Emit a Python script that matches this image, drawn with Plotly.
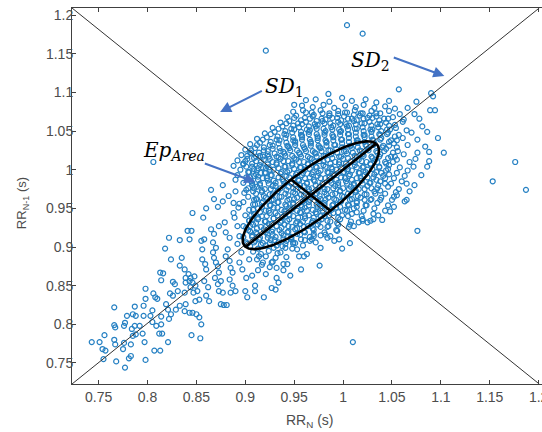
import numpy as np
import plotly.graph_objects as go

# ---------------- data ----------------
outlier_points = [(0.806, 1.010), (0.921, 1.154), (1.004, 1.187), (1.020, 1.176), (1.176, 1.010),
                  (1.153, 0.985), (1.187, 0.974), (1.010, 0.777), (1.076, 0.921)]

tail_points = [
    (0.743, 0.777), (0.751, 0.777), (0.756, 0.786), (0.754, 0.768), (0.757, 0.766), (0.755, 0.755),
    (0.766, 0.822), (0.766, 0.799), (0.767, 0.796), (0.766, 0.780), (0.767, 0.774), (0.768, 0.752),
    (0.776, 0.798), (0.777, 0.802), (0.779, 0.811), (0.776, 0.776), (0.775, 0.768), (0.781, 0.756),
    (0.783, 0.759), (0.777, 0.744), (0.787, 0.823), (0.785, 0.813), (0.788, 0.811), (0.784, 0.794),
    (0.787, 0.798), (0.788, 0.787), (0.785, 0.785), (0.783, 0.774), (0.792, 0.798), (0.795, 0.788),
    (0.798, 0.754), (0.796, 0.811), (0.798, 0.833), (0.796, 0.824), (0.798, 0.846), (0.797, 0.777),
    (0.805, 0.818), (0.803, 0.811), (0.805, 0.803), (0.809, 0.798), (0.807, 0.766), (0.813, 0.766),
    (0.806, 0.840), (0.808, 0.835), (0.810, 0.833), (0.814, 0.810), (0.812, 0.788), (0.815, 0.788),
    (0.814, 0.800), (0.813, 0.867), (0.816, 0.866), (0.814, 0.857), (0.821, 0.819), (0.819, 0.826),
    (0.822, 0.807), (0.821, 0.777), (0.823, 0.840), (0.826, 0.837), (0.824, 0.813), (0.833, 0.824),
    (0.829, 0.819), (0.831, 0.843), (0.828, 0.852), (0.826, 0.855), (0.818, 0.898), (0.822, 0.912),
    (0.824, 0.884), (0.833, 0.909), (0.835, 0.886), (0.833, 0.876), (0.838, 0.871), (0.839, 0.860),
    (0.839, 0.854), (0.838, 0.841), (0.839, 0.826), (0.838, 0.817), (0.843, 0.815), (0.846, 0.815),
    (0.850, 0.813), (0.853, 0.809), (0.855, 0.800), (0.845, 0.786), (0.854, 0.782), (0.841, 0.921),
    (0.845, 0.921), (0.843, 0.910), (0.842, 0.865), (0.844, 0.860), (0.843, 0.856), (0.846, 0.854),
    (0.844, 0.848), (0.848, 0.862), (0.849, 0.850), (0.847, 0.841), (0.851, 0.843), (0.853, 0.832),
    (0.849, 0.830), (0.855, 0.908), (0.858, 0.910), (0.856, 0.897), (0.856, 0.884), (0.859, 0.878),
    (0.860, 0.871), (0.858, 0.856), (0.862, 0.848), (0.860, 0.837), (0.863, 0.830), (0.865, 0.923),
    (0.868, 0.917), (0.867, 0.906), (0.870, 0.899), (0.867, 0.893), (0.868, 0.886), (0.870, 0.880),
    (0.872, 0.875), (0.873, 0.867), (0.869, 0.860), (0.872, 0.852), (0.875, 0.856), (0.873, 0.843),
    (0.877, 0.841), (0.875, 0.826), (0.878, 0.825), (0.881, 0.825), (0.873, 0.927), (0.879, 0.932),
    (0.880, 0.919), (0.884, 0.912), (0.882, 0.897), (0.880, 0.888), (0.884, 0.882), (0.885, 0.873),
    (0.887, 0.867), (0.884, 0.858), (0.887, 0.850), (0.885, 0.841), (0.890, 0.843), (0.889, 0.938),
    (0.892, 0.927), (0.894, 0.914), (0.892, 0.904), (0.896, 0.893), (0.894, 0.880), (0.897, 0.871),
    (0.901, 0.860), (0.900, 0.843), (0.902, 0.835), (0.910, 0.850), (0.910, 0.843), (0.907, 0.863),
    (0.904, 0.884), (0.902, 0.904), (0.901, 0.925), (0.907, 0.936), (0.919, 0.835), (0.921, 0.865),
    (0.914, 0.888), (0.918, 0.880), (0.908, 0.894), (0.916, 0.891), (0.924, 0.895), (0.933, 0.892),
    (0.912, 0.884), (0.921, 0.888), (0.917, 0.877), (0.928, 0.881), (0.913, 0.870), (0.925, 0.874),
    (0.942, 0.887), (0.939, 0.870),
]

fringe_points = [
    (0.911, 1.017), (0.924, 1.017), (0.913, 1.002), (0.916, 0.996), (0.913, 0.991), (0.890, 0.987),
    (0.921, 1.002), (0.865, 0.974), (0.877, 0.980), (0.890, 0.972), (0.901, 0.974), (0.907, 0.980),
    (0.908, 0.972), (0.909, 0.961), (0.877, 0.959), (0.888, 0.957), (0.894, 0.956), (0.846, 0.944),
    (0.860, 0.950), (0.868, 0.962), (0.898, 1.008), (0.905, 1.022), (0.883, 0.966), (0.872, 0.952),
    (0.857, 0.938),
    (1.057, 1.104), (1.090, 1.099), (1.092, 1.095), (1.075, 1.088), (1.089, 1.077), (1.094, 1.077),
    (0.962, 1.090), (0.950, 1.084), (1.066, 1.080), (1.073, 1.072), (0.985, 1.098),
    (1.081, 1.056), (1.086, 1.049), (1.076, 1.039), (1.084, 1.030), (1.088, 1.023), (1.076, 1.022),
    (1.088, 1.011), (1.072, 1.004), (1.086, 1.004), (1.103, 1.022), (1.097, 1.041), (1.065, 0.961),
    (1.052, 0.965), (1.065, 0.982), (1.073, 0.980), (1.063, 0.959), (1.055, 0.967), (1.038, 0.961),
    (1.078, 1.066), (1.070, 1.048), (1.074, 1.014), (1.080, 0.993), (1.068, 0.972),
    (1.040, 0.935), (1.028, 0.934), (1.031, 0.936), (1.025, 0.932), (1.007, 0.929), (1.011, 0.927),
    (1.016, 0.932), (1.020, 0.934), (1.007, 0.905), (0.999, 0.898), (0.996, 0.910), (0.991, 0.908),
    (0.987, 0.914), (0.982, 0.916), (0.984, 0.912), (0.977, 0.899), (0.976, 0.876), (0.968, 0.910),
    (0.970, 0.914), (0.966, 0.908), (0.963, 0.891), (0.960, 0.888), (0.957, 0.871), (0.953, 0.897),
    (0.955, 0.888), (0.946, 0.863), (0.943, 0.878), (0.939, 0.878), (0.934, 0.854), (0.932, 0.860),
    (0.931, 0.845), (0.927, 0.847), (0.949, 0.904), (0.947, 0.910), (0.941, 0.899), (0.936, 0.893),
    (0.931, 0.886), (0.927, 0.880), (0.932, 0.873), (1.048, 0.946), (1.052, 0.952), (1.036, 0.941),
    (0.994, 0.921),
]

core_upper = [
    (0.972, 1.091), (0.986, 1.088), (0.999, 1.093), (1.009, 1.089), (1.023, 1.091), (1.034, 1.087), (1.047, 1.089),
    (0.958, 1.083), (0.969, 1.081), (0.980, 1.084), (0.991, 1.080), (1.002, 1.083), (1.013, 1.081), (1.021, 1.084),
    (1.032, 1.080), (1.043, 1.082), (1.053, 1.079),
    (0.949, 1.075), (0.959, 1.077), (0.968, 1.074), (0.977, 1.077), (0.986, 1.073), (0.995, 1.076), (1.004, 1.074),
    (1.012, 1.077), (1.020, 1.073), (1.029, 1.076), (1.038, 1.073), (1.047, 1.076), (1.058, 1.072),
    (0.943, 1.068), (0.952, 1.070), (0.961, 1.067), (0.969, 1.069), (0.978, 1.066), (0.986, 1.070), (0.994, 1.067),
    (1.001, 1.069), (1.009, 1.066), (1.017, 1.070), (1.025, 1.067), (1.034, 1.069), (1.042, 1.066), (1.051, 1.068),
    (1.062, 1.065),
    (0.936, 1.061), (0.945, 1.063), (0.954, 1.060), (0.962, 1.062), (0.971, 1.059), (0.979, 1.063), (0.987, 1.060),
    (0.995, 1.062), (1.003, 1.059), (1.011, 1.063), (1.019, 1.060), (1.027, 1.062), (1.035, 1.059), (1.044, 1.061),
    (1.053, 1.058), (1.061, 1.062),
    (0.928, 1.054), (0.938, 1.056), (0.947, 1.053), (0.955, 1.055), (0.963, 1.052), (0.972, 1.056), (0.980, 1.053),
    (0.988, 1.055), (0.996, 1.052), (1.004, 1.056), (1.012, 1.053), (1.020, 1.055), (1.028, 1.052), (1.036, 1.055),
    (1.045, 1.052), (1.054, 1.054), (1.065, 1.051),
    (0.920, 1.047), (0.930, 1.049), (0.940, 1.046), (0.948, 1.048), (0.957, 1.045), (0.965, 1.049), (0.973, 1.046),
    (0.981, 1.048), (0.989, 1.045), (0.997, 1.049), (1.005, 1.046), (1.013, 1.048), (1.021, 1.045), (1.029, 1.049),
    (1.037, 1.046), (1.046, 1.048), (1.057, 1.045),
    (0.912, 1.040), (0.922, 1.042), (0.932, 1.039), (0.941, 1.041), (0.949, 1.038), (0.958, 1.042), (0.966, 1.039),
    (0.974, 1.041), (0.982, 1.038), (0.990, 1.042), (0.998, 1.039), (1.006, 1.041), (1.014, 1.038), (1.022, 1.042),
    (1.030, 1.039), (1.039, 1.041), (1.049, 1.038), (1.061, 1.041),
    (0.905, 1.033), (0.915, 1.035), (0.925, 1.032), (0.934, 1.034), (0.943, 1.031), (0.951, 1.035), (0.959, 1.032),
    (0.967, 1.034), (0.975, 1.031), (0.983, 1.035), (0.991, 1.032), (0.999, 1.034), (1.007, 1.031), (1.015, 1.035),
    (1.023, 1.032), (1.032, 1.034), (1.041, 1.031), (1.052, 1.034), (1.066, 1.032),
]

core_middle = [
    (0.900, 1.026), (0.910, 1.028), (0.919, 1.025), (0.928, 1.027), (0.936, 1.024), (0.945, 1.028), (0.953, 1.025),
    (0.961, 1.027), (0.969, 1.024), (0.977, 1.028), (0.985, 1.025), (0.993, 1.027), (1.001, 1.024), (1.009, 1.028),
    (1.017, 1.025), (1.025, 1.027), (1.034, 1.024), (1.044, 1.027), (1.056, 1.024),
    (0.896, 1.019), (0.906, 1.021), (0.915, 1.018), (0.923, 1.020), (0.932, 1.017), (0.940, 1.021), (0.948, 1.018),
    (0.956, 1.020), (0.964, 1.017), (0.972, 1.021), (0.980, 1.018), (0.988, 1.020), (0.996, 1.017), (1.004, 1.021),
    (1.012, 1.018), (1.020, 1.020), (1.029, 1.017), (1.038, 1.020), (1.049, 1.017), (1.062, 1.020),
    (0.892, 1.012), (0.902, 1.014), (0.911, 1.011), (0.919, 1.013), (0.928, 1.010), (0.936, 1.014), (0.944, 1.011),
    (0.952, 1.013), (0.960, 1.010), (0.968, 1.014), (0.976, 1.011), (0.984, 1.013), (0.992, 1.010), (1.000, 1.014),
    (1.008, 1.011), (1.016, 1.013), (1.024, 1.010), (1.033, 1.013), (1.043, 1.010), (1.055, 1.013), (1.068, 1.010),
    (0.888, 1.005), (0.898, 1.007), (0.907, 1.004), (0.915, 1.006), (0.924, 1.003), (0.932, 1.007), (0.940, 1.004),
    (0.948, 1.006), (0.956, 1.003), (0.964, 1.007), (0.972, 1.004), (0.980, 1.006), (0.988, 1.003), (0.996, 1.007),
    (1.004, 1.004), (1.012, 1.006), (1.020, 1.003), (1.028, 1.007), (1.037, 1.004), (1.047, 1.006), (1.058, 1.003),
    (0.895, 1.000), (0.904, 0.997), (0.912, 0.999), (0.921, 0.996), (0.929, 1.000), (0.937, 0.997),
    (0.945, 0.999), (0.953, 0.996), (0.961, 1.000), (0.969, 0.997), (0.977, 0.999), (0.985, 0.996), (0.993, 1.000),
    (1.001, 0.997), (1.009, 0.999), (1.017, 0.996), (1.025, 1.000), (1.034, 0.997), (1.044, 0.999), (1.055, 0.996),
    (1.066, 0.999),
    (0.892, 0.993), (0.901, 0.990), (0.909, 0.992), (0.918, 0.989), (0.926, 0.993), (0.934, 0.990),
    (0.942, 0.992), (0.950, 0.989), (0.958, 0.993), (0.966, 0.990), (0.974, 0.992), (0.982, 0.989), (0.990, 0.993),
    (0.998, 0.990), (1.006, 0.992), (1.014, 0.989), (1.022, 0.993), (1.031, 0.990), (1.041, 0.992), (1.052, 0.989),
    (1.063, 0.992),
    (0.898, 0.983), (0.906, 0.985), (0.915, 0.982), (0.923, 0.986), (0.931, 0.983),
    (0.939, 0.985), (0.947, 0.982), (0.955, 0.986), (0.963, 0.983), (0.971, 0.985), (0.979, 0.982), (0.987, 0.986),
    (0.995, 0.983), (1.003, 0.985), (1.011, 0.982), (1.019, 0.986), (1.028, 0.983), (1.038, 0.985), (1.049, 0.982),
    (1.060, 0.985),
]

core_lower = [
    (0.903, 0.976), (0.912, 0.978), (0.920, 0.975), (0.928, 0.979), (0.936, 0.976),
    (0.944, 0.978), (0.952, 0.975), (0.960, 0.979), (0.968, 0.976), (0.976, 0.978), (0.984, 0.975), (0.992, 0.979),
    (1.000, 0.976), (1.008, 0.978), (1.016, 0.975), (1.025, 0.979), (1.035, 0.976), (1.046, 0.978), (1.057, 0.975),
    (0.899, 0.970), (0.917, 0.971), (0.925, 0.968), (0.933, 0.972), (0.941, 0.969),
    (0.949, 0.971), (0.957, 0.968), (0.965, 0.972), (0.973, 0.969), (0.981, 0.971), (0.989, 0.968), (0.997, 0.972),
    (1.005, 0.969), (1.013, 0.971), (1.022, 0.968), (1.032, 0.972), (1.043, 0.969), (1.054, 0.971),
    (0.903, 0.965), (0.912, 0.962), (0.921, 0.964), (0.929, 0.961), (0.937, 0.965),
    (0.945, 0.962), (0.953, 0.964), (0.961, 0.961), (0.969, 0.965), (0.977, 0.962), (0.985, 0.964), (0.993, 0.961),
    (1.001, 0.965), (1.009, 0.962), (1.018, 0.964), (1.028, 0.961), (1.039, 0.964), (1.050, 0.961),
    (0.898, 0.958), (0.908, 0.955), (0.917, 0.957), (0.925, 0.954), (0.933, 0.958),
    (0.941, 0.955), (0.949, 0.957), (0.957, 0.954), (0.965, 0.958), (0.973, 0.955), (0.981, 0.957), (0.989, 0.954),
    (0.997, 0.958), (1.005, 0.955), (1.014, 0.957), (1.024, 0.954), (1.035, 0.957), (1.046, 0.954),
    (0.893, 0.951), (0.904, 0.948), (0.913, 0.950), (0.921, 0.947), (0.929, 0.951),
    (0.937, 0.948), (0.945, 0.950), (0.953, 0.947), (0.961, 0.951), (0.969, 0.948), (0.977, 0.950), (0.985, 0.947),
    (0.993, 0.951), (1.002, 0.948), (1.011, 0.950), (1.021, 0.947), (1.032, 0.950), (1.043, 0.947),
    (0.888, 0.944), (0.900, 0.941), (0.909, 0.943), (0.917, 0.940), (0.925, 0.944),
    (0.933, 0.941), (0.941, 0.943), (0.949, 0.940), (0.957, 0.944), (0.965, 0.941), (0.973, 0.943), (0.981, 0.940),
    (0.990, 0.944), (0.999, 0.941), (1.009, 0.943), (1.019, 0.940), (1.031, 0.943),
    (0.904, 0.934), (0.913, 0.936), (0.921, 0.933), (0.929, 0.937), (0.937, 0.934), (0.945, 0.936),
    (0.953, 0.933), (0.961, 0.937), (0.969, 0.934), (0.978, 0.936), (0.987, 0.933), (0.997, 0.936), (1.008, 0.933),
    (1.020, 0.936),
    (0.898, 0.927), (0.908, 0.929), (0.916, 0.926), (0.924, 0.930), (0.932, 0.927), (0.940, 0.929),
    (0.948, 0.926), (0.956, 0.930), (0.964, 0.927), (0.974, 0.929), (0.984, 0.926), (0.995, 0.929), (1.006, 0.926),
    (0.903, 0.922), (0.911, 0.919), (0.919, 0.923), (0.927, 0.920), (0.935, 0.922), (0.943, 0.919),
    (0.951, 0.923), (0.960, 0.920), (0.970, 0.922), (0.981, 0.919), (0.993, 0.922),
    (0.898, 0.913), (0.907, 0.915), (0.915, 0.912), (0.923, 0.916), (0.931, 0.913), (0.939, 0.915),
    (0.947, 0.912), (0.956, 0.916), (0.966, 0.913), (0.977, 0.915),
    (0.901, 0.906), (0.910, 0.908), (0.918, 0.905), (0.926, 0.909), (0.934, 0.906), (0.942, 0.908),
    (0.951, 0.905), (0.961, 0.909), (0.972, 0.906),
    (0.905, 0.901), (0.913, 0.898), (0.921, 0.902), (0.929, 0.899), (0.938, 0.901), (0.948, 0.898),
    (0.959, 0.902),
]

# the very dense centre of the cloud (points overlap heavily here)
core_dense = [
    (0.962, 1.074), (0.970, 1.071), (0.979, 1.073), (0.986, 1.070), (0.995, 1.072), (1.002, 1.074), (1.011, 1.071),
    (1.018, 1.073), (1.027, 1.070), (1.034, 1.073),
    (0.950, 1.067), (0.957, 1.064), (0.966, 1.066), (0.973, 1.063), (0.982, 1.065), (0.989, 1.067), (0.998, 1.064),
    (1.005, 1.066), (1.014, 1.064), (1.021, 1.066), (1.030, 1.067), (1.037, 1.064), (1.046, 1.066),
    (0.942, 1.060), (0.949, 1.057), (0.958, 1.059), (0.965, 1.056), (0.974, 1.058), (0.981, 1.060), (0.990, 1.057),
    (0.997, 1.059), (1.006, 1.057), (1.013, 1.059), (1.022, 1.060), (1.029, 1.057), (1.038, 1.059), (1.047, 1.057),
    (0.934, 1.053), (0.941, 1.050), (0.950, 1.052), (0.957, 1.049), (0.966, 1.051), (0.973, 1.053), (0.982, 1.050),
    (0.989, 1.052), (0.998, 1.050), (1.005, 1.052), (1.014, 1.053), (1.021, 1.050), (1.030, 1.052), (1.039, 1.050),
    (1.048, 1.052),
    (0.926, 1.046), (0.933, 1.043), (0.942, 1.045), (0.949, 1.042), (0.958, 1.044), (0.965, 1.046), (0.974, 1.043),
    (0.981, 1.045), (0.990, 1.043), (0.997, 1.045), (1.006, 1.046), (1.013, 1.043), (1.022, 1.045), (1.029, 1.043),
    (1.038, 1.045), (1.045, 1.046), (1.053, 1.043),
    (0.918, 1.039), (0.926, 1.036), (0.935, 1.038), (0.942, 1.035), (0.951, 1.037), (0.958, 1.039), (0.967, 1.036),
    (0.974, 1.038), (0.983, 1.036), (0.990, 1.038), (0.999, 1.039), (1.006, 1.036), (1.015, 1.038), (1.022, 1.036),
    (1.031, 1.038), (1.038, 1.039), (1.047, 1.036), (1.055, 1.038),
    (0.912, 1.032), (0.919, 1.029), (0.928, 1.031), (0.935, 1.028), (0.944, 1.030), (0.951, 1.032), (0.960, 1.029),
    (0.967, 1.031), (0.976, 1.029), (0.983, 1.031), (0.992, 1.032), (0.999, 1.029), (1.008, 1.031), (1.015, 1.029),
    (1.024, 1.031), (1.031, 1.032), (1.040, 1.029), (1.047, 1.031), (1.055, 1.029),
    (0.906, 1.025), (0.914, 1.022), (0.923, 1.024), (0.930, 1.021), (0.939, 1.023), (0.946, 1.025), (0.955, 1.022),
    (0.962, 1.024), (0.971, 1.022), (0.978, 1.024), (0.987, 1.025), (0.994, 1.022), (1.003, 1.024), (1.010, 1.022),
    (1.019, 1.024), (1.026, 1.025), (1.035, 1.022), (1.042, 1.024), (1.051, 1.022),
    (0.902, 1.018), (0.909, 1.015), (0.918, 1.017), (0.925, 1.014), (0.934, 1.016), (0.941, 1.018), (0.950, 1.015),
    (0.957, 1.017), (0.966, 1.015), (0.973, 1.017), (0.982, 1.018), (0.989, 1.015), (0.998, 1.017), (1.005, 1.015),
    (1.014, 1.017), (1.021, 1.018), (1.030, 1.015), (1.037, 1.017), (1.046, 1.015), (1.053, 1.017),
    (0.900, 1.011), (0.907, 1.008), (0.916, 1.010), (0.923, 1.007), (0.932, 1.009), (0.939, 1.011), (0.948, 1.008),
    (0.955, 1.010), (0.964, 1.008), (0.971, 1.010), (0.980, 1.011), (0.987, 1.008), (0.996, 1.010), (1.003, 1.008),
    (1.012, 1.010), (1.019, 1.011), (1.028, 1.008), (1.035, 1.010), (1.044, 1.008), (1.051, 1.010),
    (0.901, 1.004), (0.909, 1.001), (0.918, 1.003), (0.925, 1.000), (0.934, 1.002), (0.941, 1.004), (0.950, 1.001),
    (0.957, 1.003), (0.966, 1.001), (0.973, 1.003), (0.982, 1.004), (0.989, 1.001), (0.998, 1.003), (1.005, 1.001),
    (1.014, 1.003), (1.021, 1.004), (1.030, 1.001), (1.037, 1.003), (1.046, 1.001),
    (0.903, 0.997), (0.911, 0.994), (0.920, 0.996), (0.927, 0.993), (0.936, 0.995), (0.943, 0.997), (0.952, 0.994),
    (0.959, 0.996), (0.968, 0.994), (0.975, 0.996), (0.984, 0.997), (0.991, 0.994), (1.000, 0.996), (1.007, 0.994),
    (1.016, 0.996), (1.023, 0.997), (1.032, 0.994), (1.039, 0.996), (1.047, 0.994),
    (0.905, 0.990), (0.913, 0.987), (0.922, 0.989), (0.929, 0.986), (0.938, 0.988), (0.945, 0.990), (0.954, 0.987),
    (0.961, 0.989), (0.970, 0.987), (0.977, 0.989), (0.986, 0.990), (0.993, 0.987), (1.002, 0.989), (1.009, 0.987),
    (1.018, 0.989), (1.025, 0.990), (1.034, 0.987), (1.043, 0.989),
    (0.907, 0.983), (0.915, 0.980), (0.924, 0.982), (0.931, 0.979), (0.940, 0.981), (0.947, 0.983), (0.956, 0.980),
    (0.963, 0.982), (0.972, 0.980), (0.979, 0.982), (0.988, 0.983), (0.995, 0.980), (1.004, 0.982), (1.011, 0.980),
    (1.020, 0.982), (1.027, 0.983), (1.036, 0.980), (1.043, 0.982),
    (0.909, 0.976), (0.917, 0.973), (0.926, 0.975), (0.933, 0.972), (0.942, 0.974), (0.949, 0.976), (0.958, 0.973),
    (0.965, 0.975), (0.974, 0.973), (0.981, 0.975), (0.990, 0.976), (0.997, 0.973), (1.006, 0.975), (1.013, 0.973),
    (1.022, 0.975), (1.029, 0.976), (1.038, 0.973),
    (0.911, 0.969), (0.919, 0.966), (0.928, 0.968), (0.935, 0.965), (0.944, 0.967), (0.951, 0.969), (0.960, 0.966),
    (0.967, 0.968), (0.976, 0.966), (0.983, 0.968), (0.992, 0.969), (0.999, 0.966), (1.008, 0.968), (1.015, 0.966),
    (1.024, 0.968), (1.033, 0.969),
    (0.911, 0.962), (0.918, 0.959), (0.927, 0.961), (0.934, 0.958), (0.943, 0.960), (0.950, 0.962), (0.959, 0.959),
    (0.966, 0.961), (0.975, 0.959), (0.982, 0.961), (0.991, 0.962), (0.998, 0.959), (1.007, 0.961), (1.014, 0.959),
    (1.022, 0.961), (1.029, 0.962),
    (0.910, 0.955), (0.917, 0.952), (0.926, 0.954), (0.933, 0.951), (0.942, 0.953), (0.949, 0.955), (0.958, 0.952),
    (0.965, 0.954), (0.974, 0.952), (0.981, 0.954), (0.990, 0.955), (0.997, 0.952), (1.006, 0.954), (1.014, 0.952),
    (1.023, 0.954),
    (0.908, 0.948), (0.915, 0.945), (0.924, 0.947), (0.931, 0.944), (0.940, 0.946), (0.947, 0.948), (0.956, 0.945),
    (0.963, 0.947), (0.972, 0.945), (0.979, 0.947), (0.988, 0.948), (0.995, 0.945), (1.004, 0.947), (1.014, 0.945),
    (0.906, 0.941), (0.913, 0.938), (0.922, 0.940), (0.929, 0.937), (0.938, 0.939), (0.945, 0.941), (0.954, 0.938),
    (0.961, 0.940), (0.970, 0.938), (0.977, 0.940), (0.986, 0.941), (0.995, 0.938), (1.005, 0.940),
    (0.904, 0.934), (0.911, 0.931), (0.920, 0.933), (0.927, 0.930), (0.936, 0.932), (0.943, 0.934), (0.952, 0.931),
    (0.959, 0.933), (0.968, 0.931), (0.975, 0.933), (0.984, 0.934), (0.994, 0.931),
    (0.905, 0.927), (0.912, 0.924), (0.921, 0.926), (0.928, 0.923), (0.937, 0.925), (0.944, 0.927), (0.953, 0.924),
    (0.960, 0.926), (0.969, 0.924), (0.977, 0.926), (0.985, 0.927),
    (0.905, 0.920), (0.912, 0.917), (0.921, 0.919), (0.928, 0.916), (0.937, 0.918), (0.944, 0.920), (0.953, 0.917),
    (0.961, 0.919), (0.970, 0.917),
    (0.907, 0.913), (0.914, 0.910), (0.923, 0.912), (0.930, 0.909), (0.939, 0.911), (0.947, 0.913), (0.957, 0.910),
    (0.909, 0.906), (0.916, 0.903), (0.925, 0.905), (0.932, 0.902), (0.941, 0.904), (0.949, 0.906),
]

# Poincaré descriptors (ellipse)
ellipse_center = (0.967, 0.967)
sd1 = 0.0286   # semi-axis across the identity line
sd2 = 0.0944   # semi-axis along the identity line

# reference lines (corner to corner of the axes box)
identity_line_x = [0.7228, 1.2006]
identity_line_y = [0.7228, 1.2092]
cross_line_x = [0.7228, 1.2006]
cross_line_y = [1.2092, 0.7228]

x_range = [0.7228, 1.2034]
y_range = [0.7228, 1.2092]
x_tick_vals = [0.75, 0.8, 0.85, 0.9, 0.95, 1.0, 1.05, 1.1, 1.15, 1.2]
x_tick_text = ["0.75", "0.8", "0.85", "0.9", "0.95", "1", "1.05", "1.1", "1.15", "1.2"]
y_tick_vals = [0.75, 0.8, 0.85, 0.9, 0.95, 1.0, 1.05, 1.1, 1.15, 1.2]
y_tick_text = ["0.75", "0.8", "0.85", "0.9", "0.95", "1", "1.05", "1.1", "1.15", "1.2"]

# ---------------- figure ----------------
all_points = (tail_points + fringe_points + core_upper + core_middle + core_lower
              + core_dense + outlier_points)
rr_n = [p[0] for p in all_points]
rr_n1 = [p[1] for p in all_points]

point_color = "#2580c3"
fig = go.Figure()
fig.add_trace(go.Scatter(
    x=rr_n, y=rr_n1, mode="markers",
    marker=dict(symbol="circle-open", size=5, color=point_color, line=dict(width=1.2, color=point_color)),
    showlegend=False, hoverinfo="skip"))

fig.add_trace(go.Scatter(x=identity_line_x, y=identity_line_y, mode="lines",
                         line=dict(color="#333333", width=1), showlegend=False, hoverinfo="skip"))
fig.add_trace(go.Scatter(x=cross_line_x, y=cross_line_y, mode="lines",
                         line=dict(color="#333333", width=1), showlegend=False, hoverinfo="skip"))

# ellipse built from its centre and SD1/SD2 semi-axes
cx, cy = ellipse_center
t = np.linspace(0, 2 * np.pi, 241)
r2 = np.sqrt(0.5)
ex = cx + sd2 * np.cos(t) * r2 - sd1 * np.sin(t) * r2
ey = cy + sd2 * np.cos(t) * r2 + sd1 * np.sin(t) * r2
fig.add_trace(go.Scatter(x=ex, y=ey, mode="lines", line=dict(color="black", width=2.6),
                         showlegend=False, hoverinfo="skip"))
fig.add_trace(go.Scatter(x=[cx - sd2 * r2, cx + sd2 * r2], y=[cy - sd2 * r2, cy + sd2 * r2], mode="lines",
                         line=dict(color="black", width=2.6), showlegend=False, hoverinfo="skip"))
fig.add_trace(go.Scatter(x=[cx - sd1 * r2, cx + sd1 * r2], y=[cy + sd1 * r2, cy - sd1 * r2], mode="lines",
                         line=dict(color="black", width=2.6), showlegend=False, hoverinfo="skip"))

arrow_color = "#4472C4"
arrows = [
    # (head_x, head_y, tail_x, tail_y)
    (0.8743, 1.0747, 0.9185, 1.1030),
    (1.1035, 1.1213, 1.0503, 1.1459),
    (0.9102, 0.9842, 0.8571, 1.0087),
]
for hx, hy, tx, ty in arrows:
    fig.add_annotation(x=hx, y=hy, ax=tx, ay=ty, xref="x", yref="y", axref="x", ayref="y",
                       text="", showarrow=True, arrowhead=2, arrowsize=1.1, arrowwidth=2,
                       arrowcolor=arrow_color)

label_font = dict(family="DejaVu Serif", size=20, color="black")
labels = [
    (0.9405, 1.107, "<i>SD</i><sub>1</sub>"),
    (1.028, 1.1407, "<i>SD</i><sub>2</sub>"),
    (0.8275, 1.0243, "<i>Ep</i><sub><i>Area</i></sub>"),
]
for lx, ly, txt in labels:
    fig.add_annotation(x=lx, y=ly, xref="x", yref="y", text=txt, showarrow=False, font=label_font)

# axis titles
title_font = dict(family="Liberation Sans", size=14, color="#4d4d4d")
fig.add_annotation(x=0.506, y=0, xref="paper", yref="paper", yanchor="middle", yshift=-37,
                   text="RR<sub>N</sub> (s)", showarrow=False, font=title_font)
fig.add_annotation(x=0, y=0.481, xref="paper", yref="paper", xanchor="center", xshift=-50,
                   text="RR<sub>N-1</sub> (s)", textangle=-90, showarrow=False,
                   font=dict(family="Liberation Sans", size=13, color="#4d4d4d"))

axis_color = "#404040"
tick_font = dict(family="Liberation Sans", size=14, color="#4d4d4d")
fig.update_layout(
    width=542, height=432,
    margin=dict(l=72, r=0, t=8, b=48),
    paper_bgcolor="white", plot_bgcolor="white",
    xaxis=dict(range=x_range, tickvals=x_tick_vals, ticktext=x_tick_text, automargin=False,
               showgrid=False, zeroline=False, showline=True, linecolor=axis_color, linewidth=1,
               mirror="ticks", ticks="inside", ticklen=4, tickcolor=axis_color,
               tickfont=tick_font, ticklabeloverflow="allow"),
    yaxis=dict(range=y_range, tickvals=y_tick_vals, ticktext=y_tick_text, automargin=False,
               showgrid=False, zeroline=False, showline=True, linecolor=axis_color, linewidth=1,
               mirror=False, ticks="inside", ticklen=4, tickcolor=axis_color,
               tickfont=tick_font, ticklabelstandoff=-5),
)

fig.write_html("out.html", config={"displayModeBar": False},
               post_script="document.body.style.margin='0';document.body.style.overflow='hidden';")
